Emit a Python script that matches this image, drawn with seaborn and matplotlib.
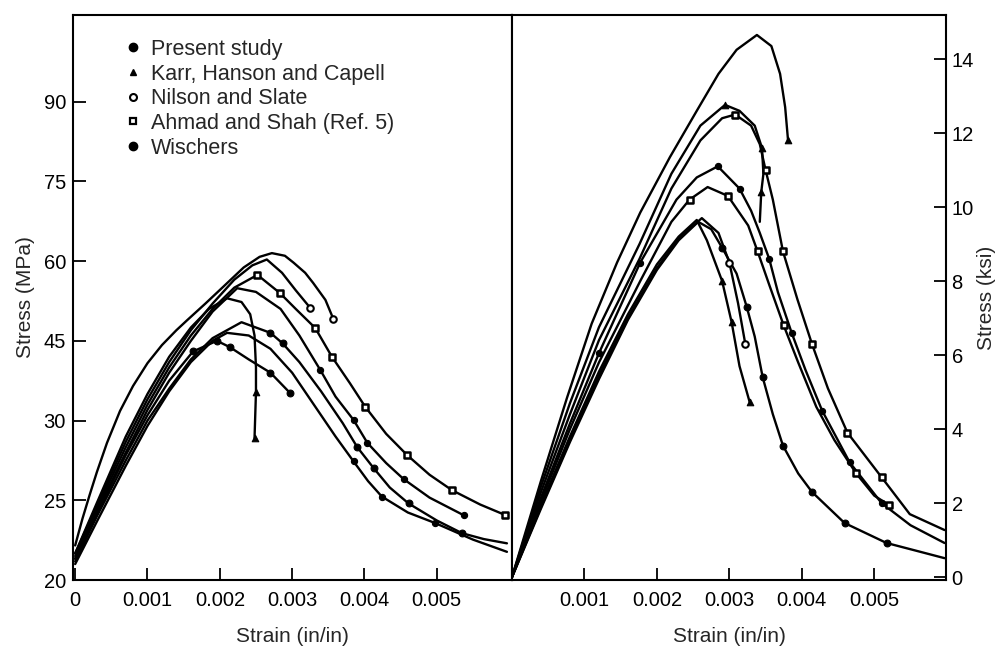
import matplotlib
matplotlib.use("Agg")
import matplotlib.pyplot as plt
import pandas as pd
import seaborn as sns
from matplotlib.lines import Line2D

sns.set_theme(style="white")
plt.rcParams["font.family"] = ["Liberation Sans", "DejaVu Sans"]

# ---------------- axis text ----------------
X_TICKS = [0, 1, 2, 3, 4, 5]
X_TICK_LABELS_LEFT = ["0", "0.001", "0.002", "0.003", "0.004", "0.005"]
X_TICKS_RIGHT = [1, 2, 3, 4, 5]
X_TICK_LABELS_RIGHT = ["0.001", "0.002", "0.003", "0.004", "0.005"]
LEFT_Y_TICKS = [0, 15, 30, 45, 60, 75, 90]
LEFT_Y_TICK_LABELS = ["20", "25", "30", "45", "60", "75", "90"]  # as printed
RIGHT_Y_TICKS = [0, 2, 4, 6, 8, 10, 12, 14]
RIGHT_Y_TICK_LABELS = ["0", "2", "4", "6", "8", "10", "12", "14"]

SERIES = ["Present study", "Karr, Hanson and Capell", "Nilson and Slate",
          "Ahmad and Shah (Ref. 5)", "Wischers"]

# ---------------- left panel (strain x 0.001, stress MPa scale) ----------------
LA_X = [0, 0.1, 0.2, 0.3, 0.44, 0.62, 0.8, 1.0, 1.2, 1.4, 1.55, 1.8, 2.05, 2.33, 2.55, 2.72, 2.9, 3.02, 3.18, 3.29, 3.46, 3.57]
LA_Y = [6.5, 11.5, 16, 20.3, 25.8, 31.8, 36.5, 40.8, 44.2, 47.0, 48.9, 52.0, 55.2, 58.8, 60.8, 61.5, 61.0, 59.7, 57.8, 55.9, 52.7, 49.1]
LA2_X = [0, 0.3, 0.7, 1.0, 1.3, 1.6, 1.9, 2.2, 2.45, 2.65, 2.86, 3.05, 3.25]
LA2_Y = [5, 14, 26, 34, 41, 47, 52, 56.5, 59.2, 60.3, 57.8, 54.5, 51.2]
LB_X = [0, 0.3, 0.7, 1.0, 1.3, 1.6, 1.9, 2.2, 2.52, 2.83, 3.05, 3.32, 3.55, 3.8, 4.01, 4.3, 4.59, 4.9, 5.21, 5.6, 5.95]
LB_Y = [4.5, 13.5, 25, 33, 40, 46, 51, 55, 57.4, 54, 51, 47.4, 42.0, 37, 32.6, 27.5, 23.5, 19.8, 16.9, 14.2, 12.2]
LC_X = [0, 0.3, 0.7, 1.0, 1.3, 1.6, 1.9, 2.24, 2.5, 2.84, 3.1, 3.39, 3.6, 3.85, 4.04, 4.3, 4.54, 4.9, 5.37]
LC_Y = [4, 13, 24, 32, 39, 45, 50.5, 54.9, 54.2, 51, 46, 39.5, 34.5, 30.1, 25.8, 22, 19, 15.5, 12.2]
LD_X = [0, 0.3, 0.7, 1.0, 1.3, 1.6, 1.85, 2.1, 2.3, 2.42, 2.48, 2.5, 2.5, 2.48]
LD_Y = [5, 14.5, 27, 35, 42, 47.5, 51, 53, 52.3, 50, 46, 40, 35.4, 26.7]
LE_X = [0, 0.3, 0.7, 1.0, 1.3, 1.6, 1.9, 2.3, 2.7, 2.87, 3.1, 3.4, 3.7, 3.9, 4.13, 4.35, 4.61, 5.0, 5.35, 5.65, 5.97]
LE_Y = [3.5, 12, 22.5, 30, 36, 41.5, 45.5, 48.5, 46.5, 44.5, 41, 35.5, 29.5, 25, 21.0, 17.4, 14.4, 11.2, 8.8, 7.7, 6.9]
LF_X = [0, 0.3, 0.7, 1.0, 1.3, 1.6, 1.9, 2.1, 2.4, 2.7, 3.0, 3.3, 3.6, 3.85, 4.05, 4.24, 4.6, 4.98, 5.5, 5.97]
LF_Y = [3, 11, 21.5, 29, 35.5, 41, 45, 46.5, 46.0, 43.5, 39, 33, 27, 22.3, 18.6, 15.7, 12.7, 10.7, 7.6, 5.3]
LG_X = [0, 0.3, 0.7, 1.0, 1.3, 1.63, 1.96, 2.14, 2.4, 2.7, 2.97]
LG_Y = [4, 12.5, 23.5, 31, 37.5, 43, 45, 43.8, 41.5, 39.0, 35.2]

# (series, x, y, indices of plotted points carrying a symbol)
LEFT_CURVES = [
    ("Nilson and Slate", LA_X, LA_Y, [21]),
    ("Nilson and Slate", LA2_X, LA2_Y, [12]),
    ("Ahmad and Shah (Ref. 5)", LB_X, LB_Y, [8, 9, 11, 12, 14, 16, 18, 20]),
    ("Present study", LC_X, LC_Y, [11, 13, 14, 16, 18]),
    ("Karr, Hanson and Capell", LD_X, LD_Y, [12, 13]),
    ("Wischers", LE_X, LE_Y, [8, 9, 13, 14, 16, 18]),
    ("Present study", LF_X, LF_Y, [13, 15, 17]),
    ("Wischers", LG_X, LG_Y, [5, 6, 7, 9, 10]),
]

# ---------------- right panel (strain x 0.001, stress ksi) ----------------
R1_X = [0, 0.4, 0.76, 1.1, 1.45, 1.77, 2.18, 2.55, 2.85, 3.1, 3.38, 3.58, 3.7, 3.77, 3.81]
R1_Y = [0, 2.6, 4.85, 6.85, 8.5, 9.85, 11.35, 12.6, 13.6, 14.25, 14.65, 14.35, 13.6, 12.7, 11.8]
R2_X = [0, 0.4, 0.8, 1.2, 1.76, 2.2, 2.6, 2.94, 3.14, 3.35, 3.45, 3.47, 3.44, 3.42]
R2_Y = [0, 2.45, 4.7, 6.75, 9.0, 10.9, 12.2, 12.76, 12.6, 12.2, 11.6, 10.9, 10.4, 9.6]
R3_X = [0, 0.4, 0.8, 1.2, 1.76, 2.2, 2.6, 2.9, 3.08, 3.3, 3.42, 3.5, 3.6, 3.74, 3.94, 4.14, 4.36, 4.63, 5.1, 5.49, 5.97]
R3_Y = [0, 2.3, 4.4, 6.4, 8.6, 10.5, 11.8, 12.4, 12.5, 12.2, 11.7, 11.0, 10.2, 8.8, 7.5, 6.3, 5.1, 3.9, 2.7, 1.7, 1.27]
R4_X = [0, 0.4, 0.8, 1.2, 1.77, 2.27, 2.55, 2.84, 3.14, 3.3, 3.42, 3.55, 3.67, 3.86, 4.05, 4.28, 4.66, 5.1, 5.5, 5.97]
R4_Y = [0, 2.15, 4.15, 6.05, 8.5, 10.2, 10.8, 11.1, 10.5, 9.9, 9.3, 8.6, 7.7, 6.6, 5.6, 4.5, 3.1, 2.0, 1.4, 0.92]
R5_X = [0, 0.4, 0.8, 1.2, 1.77, 2.2, 2.45, 2.7, 2.98, 3.26, 3.39, 3.55, 3.75, 3.95, 4.2, 4.45, 4.75, 5.0, 5.2]
R5_Y = [0, 2.05, 4.0, 5.8, 8.0, 9.6, 10.2, 10.54, 10.3, 9.5, 8.8, 7.9, 6.8, 5.8, 4.6, 3.7, 2.8, 2.2, 1.95]
R6A_X = [0, 0.4, 0.8, 1.2, 1.6, 2.0, 2.3, 2.57, 2.75, 2.9, 3.1, 3.24, 3.35, 3.46, 3.6, 3.74, 3.95, 4.14, 4.59, 5.17, 5.6, 5.97]
R6A_Y = [0, 1.85, 3.65, 5.35, 6.95, 8.3, 9.1, 9.6, 9.4, 8.9, 8.2, 7.3, 6.5, 5.4, 4.4, 3.55, 2.8, 2.3, 1.46, 0.92, 0.7, 0.51]
R6B_X = [0, 0.4, 0.8, 1.2, 1.6, 2.0, 2.3, 2.55, 2.69, 2.9, 3.03, 3.14, 3.28]
R6B_Y = [0, 1.95, 3.8, 5.55, 7.1, 8.45, 9.2, 9.65, 9.1, 8.0, 6.9, 5.7, 4.73]
R6C_X = [0, 0.4, 0.8, 1.2, 1.6, 2.0, 2.3, 2.62, 2.85, 3.0, 3.12, 3.22]
R6C_Y = [0, 1.9, 3.7, 5.45, 7.0, 8.35, 9.15, 9.7, 9.3, 8.5, 7.4, 6.3]

RIGHT_CURVES = [
    ("Karr, Hanson and Capell", R1_X, R1_Y, [14]),
    ("Karr, Hanson and Capell", R2_X, R2_Y, [7, 10, 12]),
    ("Ahmad and Shah (Ref. 5)", R3_X, R3_Y, [8, 11, 13, 15, 17, 18]),
    ("Present study", R4_X, R4_Y, [3, 4, 7, 8, 11, 13, 15, 16, 17]),
    ("Ahmad and Shah (Ref. 5)", R5_X, R5_Y, [6, 8, 10, 12, 16, 18]),
    ("Wischers", R6A_X, R6A_Y, [9, 11, 13, 15, 17, 18, 19]),
    ("Karr, Hanson and Capell", R6B_X, R6B_Y, [9, 10, 12]),
    ("Nilson and Slate", R6C_X, R6C_Y, [9, 11]),
]

MARKER_STYLE = {
    "Present study": dict(marker="o", s=20, color="black", edgecolor="black", linewidth=0.8),
    "Karr, Hanson and Capell": dict(marker="^", s=22, color="black", edgecolor="black", linewidth=0.8),
    "Nilson and Slate": dict(marker="o", s=22, color="white", edgecolor="black", linewidth=1.5),
    "Ahmad and Shah (Ref. 5)": dict(marker="s", s=17, color="white", edgecolor="black", linewidth=1.8),
    "Wischers": dict(marker="o", s=24, color="black", edgecolor="black", linewidth=0.8),
}


def frames(curves):
    rows, marks = [], []
    for cid, (series, xs, ys, idx) in enumerate(curves):
        for k, (x, y) in enumerate(zip(xs, ys)):
            rows.append({"curve": cid, "series": series, "order": k, "strain": x, "stress": y})
            if k in idx:
                marks.append({"curve": cid, "series": series, "strain": x, "stress": y})
    return pd.DataFrame(rows), pd.DataFrame(marks)


def draw(ax, curves):
    lines, marks = frames(curves)
    sns.lineplot(data=lines, x="strain", y="stress", units="curve", estimator=None,
                 sort=False, color="black", linewidth=1.7, ax=ax, legend=False)
    for series in SERIES:
        sub = marks[marks["series"] == series]
        if len(sub):
            sns.scatterplot(data=sub, x="strain", y="stress", ax=ax, legend=False,
                            zorder=3, **MARKER_STYLE[series])


W, H = 999, 647
fig = plt.figure(figsize=(W / 100, H / 100), dpi=100)
axL = fig.add_axes([73 / W, 1 - 580 / H, (512 - 73) / W, (580 - 15) / H])
axR = fig.add_axes([512 / W, 1 - 580 / H, (946 - 512) / W, (580 - 15) / H])

draw(axL, LEFT_CURVES)
draw(axR, RIGHT_CURVES)

FS_TICK = 14.5
FS_LABEL = 15

axL.set_xlim(-0.03, 6.04)
axL.set_ylim(0, 106.3)
axL.set_xticks(X_TICKS, X_TICK_LABELS_LEFT)
axL.set_yticks(LEFT_Y_TICKS, LEFT_Y_TICK_LABELS)
axL.tick_params(direction="in", length=9, width=1.3, labelsize=FS_TICK, pad=8,
                colors="black", left=True, bottom=True)
axL.tick_params(axis="y", pad=5)
axL.set_xlabel("Strain (in/in)", fontsize=FS_LABEL, labelpad=12)
axL.set_ylabel("Stress (MPa)", fontsize=FS_LABEL, labelpad=6)

axR.set_xlim(0, 5.99)
axR.set_ylim(-0.08, 15.19)
axR.set_xticks(X_TICKS_RIGHT, X_TICK_LABELS_RIGHT)
axR.yaxis.tick_right()
axR.yaxis.set_label_position("right")
axR.set_yticks(RIGHT_Y_TICKS, RIGHT_Y_TICK_LABELS)
axR.tick_params(direction="in", length=9, width=1.3, labelsize=FS_TICK, pad=8,
                colors="black", right=True, left=False, bottom=True)
axR.tick_params(axis="y", pad=4)
axR.set_xlabel("Strain (in/in)", fontsize=FS_LABEL, labelpad=12)
axR.set_ylabel("Stress (ksi)", fontsize=FS_LABEL, labelpad=2)

for ax in (axL, axR):
    for sp in ax.spines.values():
        sp.set_color("black")
        sp.set_linewidth(1.5)
        sp.set_visible(True)

handles = [
    Line2D([], [], ls="", marker="o", color="black", markersize=6),
    Line2D([], [], ls="", marker="^", color="black", markersize=5),
    Line2D([], [], ls="", marker="o", markerfacecolor="white", markeredgecolor="black",
           markeredgewidth=1.5, markersize=5),
    Line2D([], [], ls="", marker="s", markerfacecolor="white", markeredgecolor="black",
           markeredgewidth=1.6, markersize=5),
    Line2D([], [], ls="", marker="o", color="black", markersize=6),
]
axL.legend(handles, SERIES, loc="upper left", frameon=False, fontsize=15.5,
           bbox_to_anchor=((125 - 73) / 439, 1 - (39 - 15) / 565),
           borderaxespad=0, borderpad=0, handlelength=0.7, handletextpad=0.5,
           labelspacing=0.17)

fig.savefig("out.png", dpi=100, facecolor="white")
